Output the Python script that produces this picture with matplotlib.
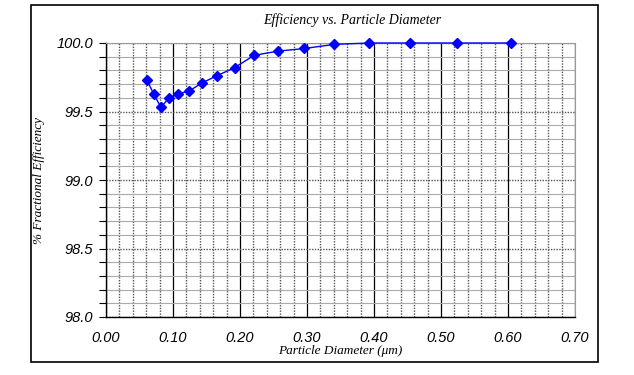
import matplotlib
matplotlib.use("Agg")
from matplotlib import pyplot as plt
from matplotlib.patches import Rectangle
from matplotlib.ticker import MultipleLocator

# particle diameter (um) and fractional efficiency (%)
diameters = [0.061, 0.071, 0.082, 0.094, 0.108, 0.124, 0.144, 0.165, 0.192,
             0.221, 0.256, 0.296, 0.341, 0.393, 0.454, 0.524, 0.605]
efficiency = [99.73, 99.63, 99.53, 99.60, 99.63, 99.65, 99.71, 99.76, 99.82,
              99.91, 99.94, 99.96, 99.99, 100.0, 100.0, 100.0, 100.0]

x_ticks = [0.0, 0.1, 0.2, 0.3, 0.4, 0.5, 0.6, 0.7]
y_ticks = [98.0, 98.5, 99.0, 99.5, 100.0]

fig = plt.figure(figsize=(6.34, 3.75), dpi=100)
ax = fig.add_axes([106 / 634, 1 - 317 / 375, 469 / 634, 274 / 375])

# outer frame round the whole chart
fig.patches.append(Rectangle((30.5 / 634, 1 - 362 / 375), 567 / 634, 357 / 375,
                             transform=fig.transFigure, fill=False,
                             edgecolor='black', linewidth=1.2))

ax.set_xlim(0, 0.7)
ax.set_ylim(98.0, 100.0)
ax.set_xticks(x_ticks)
ax.set_yticks(y_ticks)
ax.xaxis.set_minor_locator(MultipleLocator(0.02))
ax.yaxis.set_minor_locator(MultipleLocator(0.1))

# grid: vertical majors solid black, minors dotted; horizontal minors light, majors dotted
ax.grid(which='major', axis='x', color='black', linestyle='-', linewidth=0.9)
ax.grid(which='minor', axis='x', color='#555555', linestyle=(0, (1, 1)), linewidth=1.0)
ax.grid(which='minor', axis='y', color='#aaaaaa', linestyle='-', linewidth=0.8)
ax.grid(which='major', axis='y', color='#555555', linestyle=(0, (1, 1)), linewidth=1.0)
ax.set_axisbelow(True)

ax.plot(diameters, efficiency, color='#0000ff', marker='D', markersize=5,
        linewidth=1.0, zorder=3, clip_on=False)

for s in ['top', 'right']:
    ax.spines[s].set_color('#999999')
    ax.spines[s].set_linestyle((0, (1, 1)))
ax.spines['left'].set_linewidth(1.0)
ax.spines['bottom'].set_linewidth(1.0)

tick_font = {'family': 'Liberation Sans', 'style': 'italic', 'size': 10.5}
ax.set_xticklabels(['%.2f' % v for v in x_ticks], fontdict=tick_font)
ax.set_yticklabels(['%.1f' % v for v in y_ticks], fontdict=tick_font)
ax.tick_params(axis='x', which='both', length=0, pad=10)
ax.tick_params(axis='y', which='both', length=5, width=0.8, direction='out', pad=4)

serif = {'family': 'Liberation Serif', 'style': 'italic'}
ax.set_title('Efficiency vs. Particle Diameter', fontdict=serif, fontsize=10, pad=14, x=0.524)
ax.set_xlabel(u'Particle Diameter (\u03bcm)', fontdict=serif, fontsize=9.5, labelpad=0)
ax.set_ylabel('% Fractional Efficiency', fontdict=serif, fontsize=9.5)
ax.yaxis.set_label_coords(-0.13, 0.5)

fig.savefig('out.png', dpi=100)
